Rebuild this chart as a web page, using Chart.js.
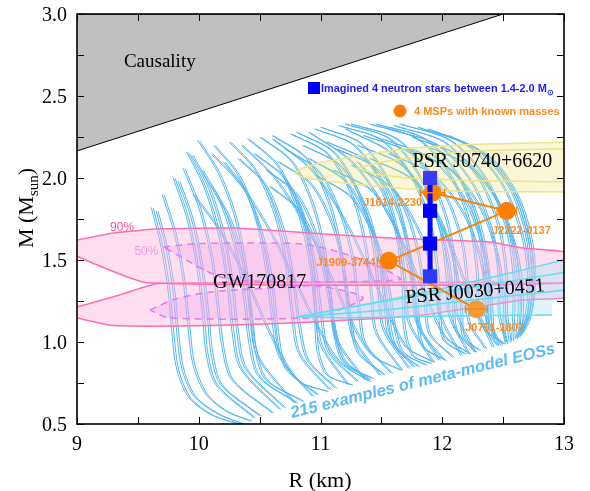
<!DOCTYPE html>
<html>
<head>
<meta charset="utf-8">
<script src="https://cdn.jsdelivr.net/npm/chart.js@4.4.0/dist/chart.umd.min.js"></script>
<style>
  html, body { margin: 0; padding: 0; background: #fff; }
</style>
</head>
<body>
<canvas id="chart" width="590" height="491"></canvas>
<script>
// axis ranges and tick labels
const xRange = [9, 13];
const yRange = [0.5, 3.0];
const xTickValues = [9, 10, 11, 12, 13];
const xTickLabels = ["9", "10", "11", "12", "13"];
const yTickValues = [0.5, 1.0, 1.5, 2.0, 2.5, 3.0];
const yTickLabels = ["0.5", "1.0", "1.5", "2.0", "2.5", "3.0"];

// causality limit (R, M)
const causality = [[9, 2.165], [12.5, 3.0], [9, 3.0]];

// meta-model M-R curves, top (Mmax) to bottom
const eosCurves = [
  [[9.61,1.82],[9.69,1.58],[9.75,1.30],[9.78,1.05],[9.82,0.83],[9.92,0.66],[10.12,0.55],[10.34,0.50]],
  [[9.65,1.80],[9.73,1.57],[9.79,1.30],[9.82,1.05],[9.86,0.84],[9.96,0.67],[10.16,0.56],[10.37,0.50]],
  [[9.70,1.90],[9.80,1.66],[9.87,1.38],[9.91,1.10],[9.95,0.87],[10.05,0.69],[10.22,0.58],[10.42,0.52]],
  [[9.79,2.00],[9.90,1.76],[9.98,1.47],[10.03,1.17],[10.06,0.93],[10.14,0.74],[10.45,0.54]],
  [[9.83,1.98],[9.94,1.75],[10.02,1.46],[10.07,1.16],[10.10,0.93],[10.18,0.74],[10.50,0.55]],
  [[9.87,2.06],[10.00,1.82],[10.10,1.52],[10.15,1.22],[10.19,0.97],[10.27,0.77],[10.60,0.57]],
  [[9.90,2.16],[10.04,1.95],[10.16,1.66],[10.23,1.36],[10.27,1.08],[10.34,0.84],[10.66,0.59]],
  [[9.94,2.14],[10.08,1.94],[10.20,1.65],[10.27,1.35],[10.31,1.07],[10.38,0.84],[10.70,0.60]],
  [[9.95,1.90],[10.15,1.70],[10.36,1.42],[10.52,1.15],[10.67,0.92],[10.82,0.76],[11.05,0.70]],
  [[9.99,2.23],[10.16,2.03],[10.30,1.75],[10.38,1.45],[10.42,1.15],[10.48,0.91],[10.78,0.63]],
  [[10.02,2.05],[10.18,1.84],[10.30,1.56],[10.37,1.26],[10.41,1.00],[10.49,0.79],[10.80,0.63]],
  [[10.10,1.95],[10.25,1.75],[10.36,1.48],[10.42,1.20],[10.46,0.95],[10.55,0.77],[10.85,0.64]],
  [[10.10,2.15],[10.35,1.95],[10.60,1.65],[10.80,1.35],[10.98,1.08],[11.15,0.88],[11.40,0.76]],
  [[10.12,2.20],[10.32,2.02],[10.47,1.74],[10.55,1.44],[10.60,1.14],[10.66,0.91],[10.93,0.67]],
  [[10.20,2.10],[10.38,1.92],[10.52,1.64],[10.60,1.34],[10.64,1.06],[10.71,0.84],[10.97,0.68]],
  [[10.25,2.22],[10.46,2.05],[10.62,1.78],[10.71,1.48],[10.76,1.18],[10.82,0.93],[11.07,0.71]],
  [[10.32,2.12],[10.54,1.96],[10.69,1.68],[10.77,1.38],[10.82,1.10],[10.89,0.89],[11.12,0.72]],
  [[10.35,2.20],[10.62,2.00],[10.88,1.70],[11.08,1.40],[11.25,1.12],[11.42,0.92],[11.65,0.83]],
  [[10.40,2.24],[10.64,2.08],[10.80,1.82],[10.90,1.52],[10.95,1.22],[11.00,0.98],[11.22,0.74]],
  [[10.45,2.15],[10.70,2.00],[10.86,1.74],[10.95,1.45],[11.00,1.16],[11.06,0.94],[11.30,0.76]],
  [[10.50,2.25],[10.76,2.10],[10.93,1.84],[11.03,1.54],[11.08,1.24],[11.13,1.01],[11.36,0.77]],
  [[10.55,2.05],[10.80,1.90],[10.97,1.63],[11.06,1.35],[11.11,1.08],[11.19,0.89],[11.40,0.77]],
  [[10.58,1.95],[10.82,1.80],[10.98,1.55],[11.06,1.28],[11.11,1.04],[11.19,0.87],[11.42,0.78]],
  [[10.60,2.26],[10.88,2.12],[11.06,1.86],[11.16,1.56],[11.21,1.26],[11.26,1.03],[11.48,0.80]],
  [[10.60,2.24],[10.92,2.05],[11.18,1.76],[11.38,1.46],[11.55,1.18],[11.70,0.97],[11.92,0.88]],
  [[10.65,2.10],[10.92,1.96],[11.10,1.70],[11.19,1.42],[11.24,1.14],[11.30,0.94],[11.52,0.80]],
  [[10.70,2.00],[10.84,1.80],[10.92,1.50],[10.95,1.20],[10.97,0.95],[11.05,0.80],[11.25,0.74]],
  [[10.70,2.18],[10.98,2.04],[11.16,1.78],[11.26,1.50],[11.31,1.20],[11.36,0.99],[11.58,0.81]],
  [[10.75,2.27],[11.05,2.15],[11.25,1.90],[11.36,1.60],[11.41,1.30],[11.45,1.06],[11.66,0.83]],
  [[10.80,2.28],[11.10,2.16],[11.30,1.92],[11.42,1.62],[11.47,1.32],[11.51,1.08],[11.72,0.84]],
  [[10.85,2.20],[11.15,2.08],[11.36,1.83],[11.47,1.54],[11.52,1.25],[11.56,1.03],[11.76,0.85]],
  [[10.90,2.12],[11.20,1.98],[11.40,1.72],[11.50,1.44],[11.55,1.17],[11.61,0.97],[11.80,0.85]],
  [[10.90,2.28],[11.25,2.10],[11.52,1.82],[11.72,1.52],[11.88,1.24],[12.02,1.03],[12.22,0.93]],
  [[10.95,2.30],[11.27,2.20],[11.50,1.96],[11.63,1.66],[11.69,1.36],[11.72,1.12],[11.92,0.88]],
  [[10.95,2.02],[11.25,1.88],[11.45,1.62],[11.55,1.35],[11.60,1.10],[11.67,0.94],[11.86,0.86]],
  [[11.00,2.31],[11.33,2.21],[11.56,1.97],[11.69,1.67],[11.75,1.37],[11.78,1.13],[11.97,0.89]],
  [[11.05,2.22],[11.38,2.10],[11.60,1.85],[11.72,1.56],[11.78,1.28],[11.82,1.07],[12.00,0.90]],
  [[11.10,2.05],[11.42,1.92],[11.63,1.66],[11.74,1.38],[11.79,1.12],[11.84,0.97],[12.02,0.89]],
  [[11.12,2.18],[11.45,2.06],[11.68,1.82],[11.80,1.53],[11.85,1.25],[11.89,1.05],[12.08,0.91]],
  [[11.15,2.32],[11.50,2.23],[11.75,2.00],[11.90,1.70],[11.96,1.40],[11.98,1.16],[12.15,0.92]],
  [[11.20,2.33],[11.56,2.24],[11.81,2.01],[11.97,1.71],[12.03,1.41],[12.05,1.17],[12.21,0.93]],
  [[11.20,2.30],[11.60,2.14],[11.88,1.86],[12.08,1.56],[12.22,1.28],[12.34,1.08],[12.50,0.99]],
  [[11.25,2.33],[11.62,2.24],[11.88,2.02],[12.04,1.72],[12.10,1.42],[12.11,1.18],[12.26,0.94]],
  [[11.25,2.08],[11.58,1.94],[11.80,1.68],[11.92,1.41],[11.97,1.16],[12.01,1.01],[12.18,0.93]],
  [[11.30,2.10],[11.50,1.92],[11.62,1.65],[11.67,1.35],[11.68,1.10],[11.75,0.92],[11.90,0.87]],
  [[11.30,2.20],[11.66,2.08],[11.90,1.84],[12.03,1.55],[12.08,1.28],[12.11,1.07],[12.27,0.94]],
  [[11.35,2.26],[11.74,2.15],[12.00,1.92],[12.15,1.63],[12.20,1.35],[12.21,1.13],[12.35,0.96]],
  [[11.40,2.12],[11.75,1.99],[11.98,1.74],[12.10,1.46],[12.15,1.20],[12.17,1.03],[12.30,0.95]],
  [[11.40,2.33],[11.79,2.24],[12.06,2.02],[12.22,1.72],[12.28,1.42],[12.29,1.19],[12.41,0.97]],
  [[11.45,2.33],[11.85,2.24],[12.12,2.02],[12.28,1.72],[12.34,1.42],[12.34,1.19],[12.45,0.98]],
  [[11.50,2.24],[11.90,2.12],[12.17,1.88],[12.32,1.60],[12.38,1.32],[12.39,1.11],[12.48,0.98]],
  [[11.55,2.30],[11.96,2.20],[12.24,1.97],[12.40,1.68],[12.46,1.40],[12.46,1.17],[12.52,0.99]],
  [[11.55,2.15],[11.92,2.02],[12.18,1.77],[12.31,1.50],[12.36,1.24],[12.37,1.06],[12.45,0.98]],
  [[11.60,2.32],[12.01,2.22],[12.30,1.99],[12.46,1.70],[12.52,1.41],[12.52,1.19],[12.55,1.00]],
  [[11.65,2.33],[12.06,2.23],[12.35,2.00],[12.52,1.70],[12.58,1.42],[12.58,1.20],[12.57,1.01]],
  [[11.70,2.18],[12.07,2.05],[12.32,1.80],[12.45,1.52],[12.50,1.26],[12.50,1.08],[12.52,1.00]],
  [[11.75,2.25],[12.15,2.13],[12.42,1.90],[12.57,1.62],[12.62,1.36],[12.62,1.14],[12.60,1.02]],
  [[11.80,2.31],[12.20,2.20],[12.48,1.97],[12.64,1.68],[12.70,1.42],[12.69,1.20],[12.62,1.03]],
  [[11.85,2.20],[12.22,2.07],[12.47,1.83],[12.60,1.56],[12.65,1.30],[12.64,1.10],[12.60,1.02]],
  [[11.88,2.30],[12.27,2.18],[12.54,1.95],[12.68,1.67],[12.72,1.40],[12.70,1.18],[12.63,1.04]],
  [[11.90,2.15],[12.15,1.98],[12.30,1.72],[12.37,1.45],[12.40,1.20],[12.42,1.04],[12.50,0.99]],
  [[11.95,2.28],[12.32,2.16],[12.58,1.92],[12.70,1.65],[12.74,1.40],[12.72,1.20],[12.64,1.05]],
  [[12.05,2.26],[12.40,2.12],[12.62,1.88],[12.73,1.60],[12.75,1.35],[12.71,1.15],[12.65,1.06]]
];

// GW170817 contours (R, M), closed polygons
const gw90Upper = [[9.0,1.622],[9.3,1.665],[9.68,1.69],[10.3,1.695],[11.0,1.66],[11.57,1.634],[12.39,1.61],[12.66,1.573],[13.05,1.54],
                   [13.05,1.362],[9.57,1.362],[9.13,1.48],[9.0,1.524]];
const gw90Lower = [[9.0,1.213],[9.35,1.287],[9.68,1.358],[13.05,1.358],[13.05,1.274],[12.66,1.256],[11.84,1.165],[10.75,1.116],
                   [10.1,1.10],[9.3,1.10],[9.0,1.146]];
const gw50Upper = [[9.71,1.58],[10.0,1.60],[10.8,1.60],[11.1,1.56],[11.45,1.47],[11.65,1.38],[10.3,1.375],[10.07,1.43],[9.85,1.52],[9.71,1.58]];
const gw50Lower = [[9.6,1.195],[9.8,1.26],[10.1,1.305],[10.6,1.33],[11.0,1.34],[11.35,1.27],[11.1,1.18],[10.9,1.146],[9.76,1.146],[9.6,1.195]];

// PSR J0740+6620 and J0030+0451 contours
const j0740Outer = [[10.79,2.03],[10.85,2.06],[11.0,2.095],[11.3,2.135],[11.7,2.18],[12.2,2.205],[13.1,2.22],
                    [13.1,1.915],[12.2,1.918],[11.7,1.935],[11.3,1.96],[11.0,1.985],[10.85,2.005],[10.79,2.03]];
const j0740Inner = [[11.3,2.06],[11.45,2.09],[11.7,2.12],[12.2,2.165],[13.1,2.18],
                    [13.1,1.975],[12.2,1.985],[11.7,2.0],[11.45,2.025],[11.3,2.06]];
const j0030Area = [[10.8,1.152],[11.3,1.22],[11.9,1.31],[12.5,1.41],[13.05,1.51],[13.05,1.26],[12.9,1.25],[12.9,1.165],
                   [12.0,1.158],[11.3,1.148],[10.8,1.152]];
const j0030Contours = [
  [[10.8,1.152],[11.3,1.22],[11.9,1.31],[12.5,1.41],[13.05,1.51]],
  [[10.8,1.152],[11.5,1.245],[12.3,1.34],[13.05,1.43]],
  [[10.82,1.152],[11.6,1.2],[12.3,1.26],[13.05,1.32]],
  [[10.8,1.152],[11.3,1.148],[12.0,1.158],[12.9,1.165]]
];

// imagined stars and MSPs
const imaginedR = 11.9;
const imaginedM = [2.0, 1.8, 1.6, 1.4];
const mspNames = ["J1614-2230", "J2222-0137", "J1909-3744", "J0751-1807"];
const mspR = [11.92, 12.53, 11.56, 12.28];
const mspM = [1.91, 1.80, 1.495, 1.20];
const mspErrR = [0.10, 0.08, 0.09, 0.09];

const pts = arr => arr.map(([x, y]) => ({ x, y }));
const curveColor = "#52b6f2";

const datasets = [];
datasets.push({ data: pts(causality), showLine: true, fill: "shape", backgroundColor: "#c0c0c0",
  borderColor: "#000", borderWidth: 1, pointRadius: 0, order: 100, clip: 0 });
eosCurves.forEach(c => datasets.push({ data: pts(c), showLine: true, fill: false, borderColor: curveColor,
  borderWidth: 1, pointRadius: 0, tension: 0.3, order: 90, eos: true }));
[gw90Upper, gw90Lower].forEach(c => datasets.push({ data: pts(c), showLine: true, fill: "shape",
  backgroundColor: "rgba(255,185,220,0.45)", borderColor: "#ff6cb6", borderWidth: 1.5, pointRadius: 0,
  tension: 0.15, order: 80, clip: 0 }));
[gw50Upper, gw50Lower].forEach(c => datasets.push({ data: pts(c), showLine: true, fill: "shape",
  backgroundColor: "rgba(230,160,240,0.3)", borderColor: "#e07cf0", borderWidth: 1.5, borderDash: [7, 5],
  pointRadius: 0, tension: 0.25, order: 79, clip: 0 }));
datasets.push({ data: pts(j0740Outer), showLine: true, fill: "shape", backgroundColor: "rgba(240,228,120,0.3)",
  borderColor: "#efe48e", borderWidth: 1.5, pointRadius: 0, order: 70, clip: 0 });
datasets.push({ data: pts(j0740Inner), showLine: true, fill: false, borderColor: "#efe48e", borderWidth: 1.5,
  pointRadius: 0, order: 70, clip: 0 });
datasets.push({ data: pts(j0030Area), showLine: true, fill: "shape", backgroundColor: "rgba(170,225,250,0.38)",
  borderWidth: 0, borderColor: "rgba(0,0,0,0)", pointRadius: 0, order: 70, clip: 0 });
j0030Contours.forEach(c => datasets.push({ data: pts(c), showLine: true, fill: false,
  borderColor: "#5fe0ee", borderWidth: 1.5, pointRadius: 0, tension: 0.2, order: 69, clip: 0 }));
datasets.push({ data: [0, 1].map(i => ({ x: mspR[i], y: mspM[i] }))
    .concat([{ x: imaginedR, y: imaginedM[2] }], [2, 3].map(i => ({ x: mspR[i], y: mspM[i] }))),
  showLine: true, borderColor: "#ff8000", borderWidth: 2, pointRadius: 0, order: 64 });
datasets.push({ data: mspR.map((r, i) => ({ x: r, y: mspM[i] })), showLine: false, pointRadius: 9,
  backgroundColor: ["#ff8000", "#ff8000", "#ff8000", "#f29a3c"], pointBorderWidth: 0, order: 63 });
datasets.push({ data: imaginedM.map(m => ({ x: imaginedR, y: m })), showLine: true, borderColor: "#0000ff",
  borderWidth: 5, pointStyle: "rect", pointRadius: 10,
  backgroundColor: ["#3a3aff", "#0000ff", "#0000ff", "#2b3cff"], pointBorderWidth: 0, order: 62 });

const SERIF = '"Liberation Serif", "Times New Roman", serif';
const SANS = '"Liberation Sans", Arial, sans-serif';

function fitSize(ctx, text, style, family, width) {
  ctx.font = `${style} 10px ${family}`;
  return 10 * width / ctx.measureText(text).width;
}

// each EOS curve is drawn as a thin double line, like the original
const doubleLine = {
  id: "doubleLine",
  beforeDatasetDraw(chart, args) {
    if (!chart.data.datasets[args.index].eos) return;
    const { ctx, chartArea: a } = chart;
    ctx.save();
    ctx.beginPath();
    ctx.rect(a.left, a.top, a.right - a.left, a.bottom - a.top);
    ctx.clip();
    ctx.translate(2, 0.5);
    args.meta.dataset.draw(ctx, a);
    ctx.restore();
  }
};

const decorations = {
  id: "decorations",
  afterDatasetsDraw(chart) {
    const { ctx, chartArea: a, scales: { x, y } } = chart;
    ctx.save();

    // MSP error bars
    ctx.strokeStyle = "#ff8000";
    ctx.lineWidth = 1.3;
    mspR.forEach((r, i) => {
      const y0 = y.getPixelForValue(mspM[i]);
      const x1 = x.getPixelForValue(r - mspErrR[i]), x2 = x.getPixelForValue(r + mspErrR[i]);
      ctx.beginPath();
      ctx.moveTo(x1, y0); ctx.lineTo(x2, y0);
      ctx.moveTo(x1, y0 - 4); ctx.lineTo(x1, y0 + 4);
      ctx.moveTo(x2, y0 - 4); ctx.lineTo(x2, y0 + 4);
      ctx.stroke();
    });

    // frame and inward ticks
    ctx.strokeStyle = "#000";
    ctx.lineWidth = 1;
    ctx.beginPath();
    for (let v = xRange[0]; v <= xRange[1] + 1e-9; v += 0.5) {
      const px = Math.round(x.getPixelForValue(v)) + 0.5;
      ctx.moveTo(px, a.bottom); ctx.lineTo(px, a.bottom - 7);
      ctx.moveTo(px, a.top); ctx.lineTo(px, a.top + 7);
    }
    for (let v = yRange[0]; v <= yRange[1] + 1e-9; v += 0.25) {
      const py = Math.round(y.getPixelForValue(v)) + 0.5;
      ctx.moveTo(a.left, py); ctx.lineTo(a.left + 7, py);
      ctx.moveTo(a.right, py); ctx.lineTo(a.right - 7, py);
    }
    ctx.stroke();
    ctx.lineWidth = 1.6;
    ctx.strokeRect(a.left, a.top, a.right - a.left, a.bottom - a.top);

    // tick labels
    ctx.fillStyle = "#000";
    ctx.font = `20px ${SERIF}`;
    ctx.textAlign = "center";
    ctx.textBaseline = "alphabetic";
    xTickValues.forEach((v, i) => ctx.fillText(xTickLabels[i], x.getPixelForValue(v), a.bottom + 26));
    ctx.textAlign = "right";
    yTickValues.forEach((v, i) => ctx.fillText(yTickLabels[i], a.left - 10, y.getPixelForValue(v) + 7));

    // axis titles
    ctx.textAlign = "center";
    ctx.font = `22px ${SERIF}`;
    ctx.fillText("R (km)", 320, 487);
    ctx.save();
    ctx.translate(25, 208);
    ctx.rotate(-Math.PI / 2);
    ctx.textAlign = "left";
    const mainF = `22px ${SERIF}`, subF = `15px ${SERIF}`;
    ctx.font = mainF; const w1 = ctx.measureText("M (M").width;
    ctx.font = subF; const w2 = ctx.measureText("sun").width;
    ctx.font = mainF; const w3 = ctx.measureText(")").width;
    let sx = -(w1 + w2 + w3) / 2;
    ctx.fillText("M (M", sx, 8); sx += w1;
    ctx.font = subF; ctx.fillText("sun", sx, 13); sx += w2;
    ctx.font = mainF; ctx.fillText(")", sx, 8);
    ctx.restore();

    // region labels
    ctx.textAlign = "center";
    ctx.textBaseline = "middle";
    ctx.font = `19px ${SERIF}`;
    ctx.fillText("Causality", x.getPixelForValue(9.68), y.getPixelForValue(2.707));
    ctx.font = `20px ${SERIF}`;
    ctx.fillText("PSR J0740+6620", x.getPixelForValue(12.33), y.getPixelForValue(2.10));
    ctx.fillText("GW170817", x.getPixelForValue(10.5), y.getPixelForValue(1.36));
    ctx.save();
    ctx.translate(x.getPixelForValue(12.27), y.getPixelForValue(1.305));
    ctx.rotate(-5 * Math.PI / 180);
    ctx.fillText("PSR J0030+0451", 0, 0);
    ctx.restore();

    ctx.font = `12px ${SANS}`;
    ctx.fillStyle = "#ff4fa3";
    ctx.fillText("90%", x.getPixelForValue(9.37), y.getPixelForValue(1.70));
    ctx.fillStyle = "#f39be4";
    ctx.fillText("50%", x.getPixelForValue(9.57), y.getPixelForValue(1.55));

    // MSP names
    ctx.fillStyle = "#ff8a1c";
    ctx.font = `bold 11px ${SANS}`;
    const nameAt = [[11.834, 1.848, "right"], [12.65, 1.677, "center"], [11.45, 1.482, "right"], [12.43, 1.085, "center"]];
    mspNames.forEach((n, i) => {
      const [r, m, al] = nameAt[i];
      ctx.textAlign = al;
      ctx.fillText(n, x.getPixelForValue(r), y.getPixelForValue(m));
    });

    // legend
    ctx.textAlign = "left";
    ctx.fillStyle = "#0000ff";
    ctx.fillRect(308, 82, 12, 12);
    ctx.fillStyle = "#1a1aff";
    const legTxt = "Imagined 4 neutron stars between 1.4-2.0 M";
    ctx.font = `bold ${fitSize(ctx, legTxt, "bold", SANS, 226)}px ${SANS}`;
    ctx.fillText(legTxt, 321, 89);
    const lw = ctx.measureText(legTxt).width;
    ctx.font = `bold 8px ${SANS}`;
    ctx.fillText("\u2299", 321 + lw, 93);
    ctx.fillStyle = "#ff8000";
    ctx.beginPath(); ctx.arc(400, 111, 6.5, 0, 2 * Math.PI); ctx.fill();
    const leg2 = "4 MSPs with known masses";
    ctx.fillStyle = "#ff8a1c";
    ctx.font = `bold ${fitSize(ctx, leg2, "bold", SANS, 146)}px ${SANS}`;
    ctx.fillText(leg2, 414, 112);

    // curve family label
    const famTxt = "215 examples of meta-model EOSs";
    ctx.save();
    ctx.translate(292, 418);
    ctx.rotate(-13.8 * Math.PI / 180);
    ctx.fillStyle = "#5bbcf5";
    ctx.textBaseline = "alphabetic";
    ctx.font = `italic bold ${fitSize(ctx, famTxt, "italic bold", SANS, 272)}px ${SANS}`;
    ctx.fillText(famTxt, 0, 0);
    ctx.restore();

    ctx.restore();
  }
};

new Chart(document.getElementById("chart"), {
  type: "scatter",
  data: { datasets },
  options: {
    responsive: false,
    animation: false,
    devicePixelRatio: 1,
    events: [],
    layout: { padding: { left: 77, right: 26, top: 14, bottom: 67 } },
    scales: {
      x: { type: "linear", min: xRange[0], max: xRange[1], display: false },
      y: { type: "linear", min: yRange[0], max: yRange[1], display: false }
    },
    plugins: { legend: { display: false }, tooltip: { enabled: false } }
  },
  plugins: [doubleLine, decorations]
});
</script>
</body>
</html>
